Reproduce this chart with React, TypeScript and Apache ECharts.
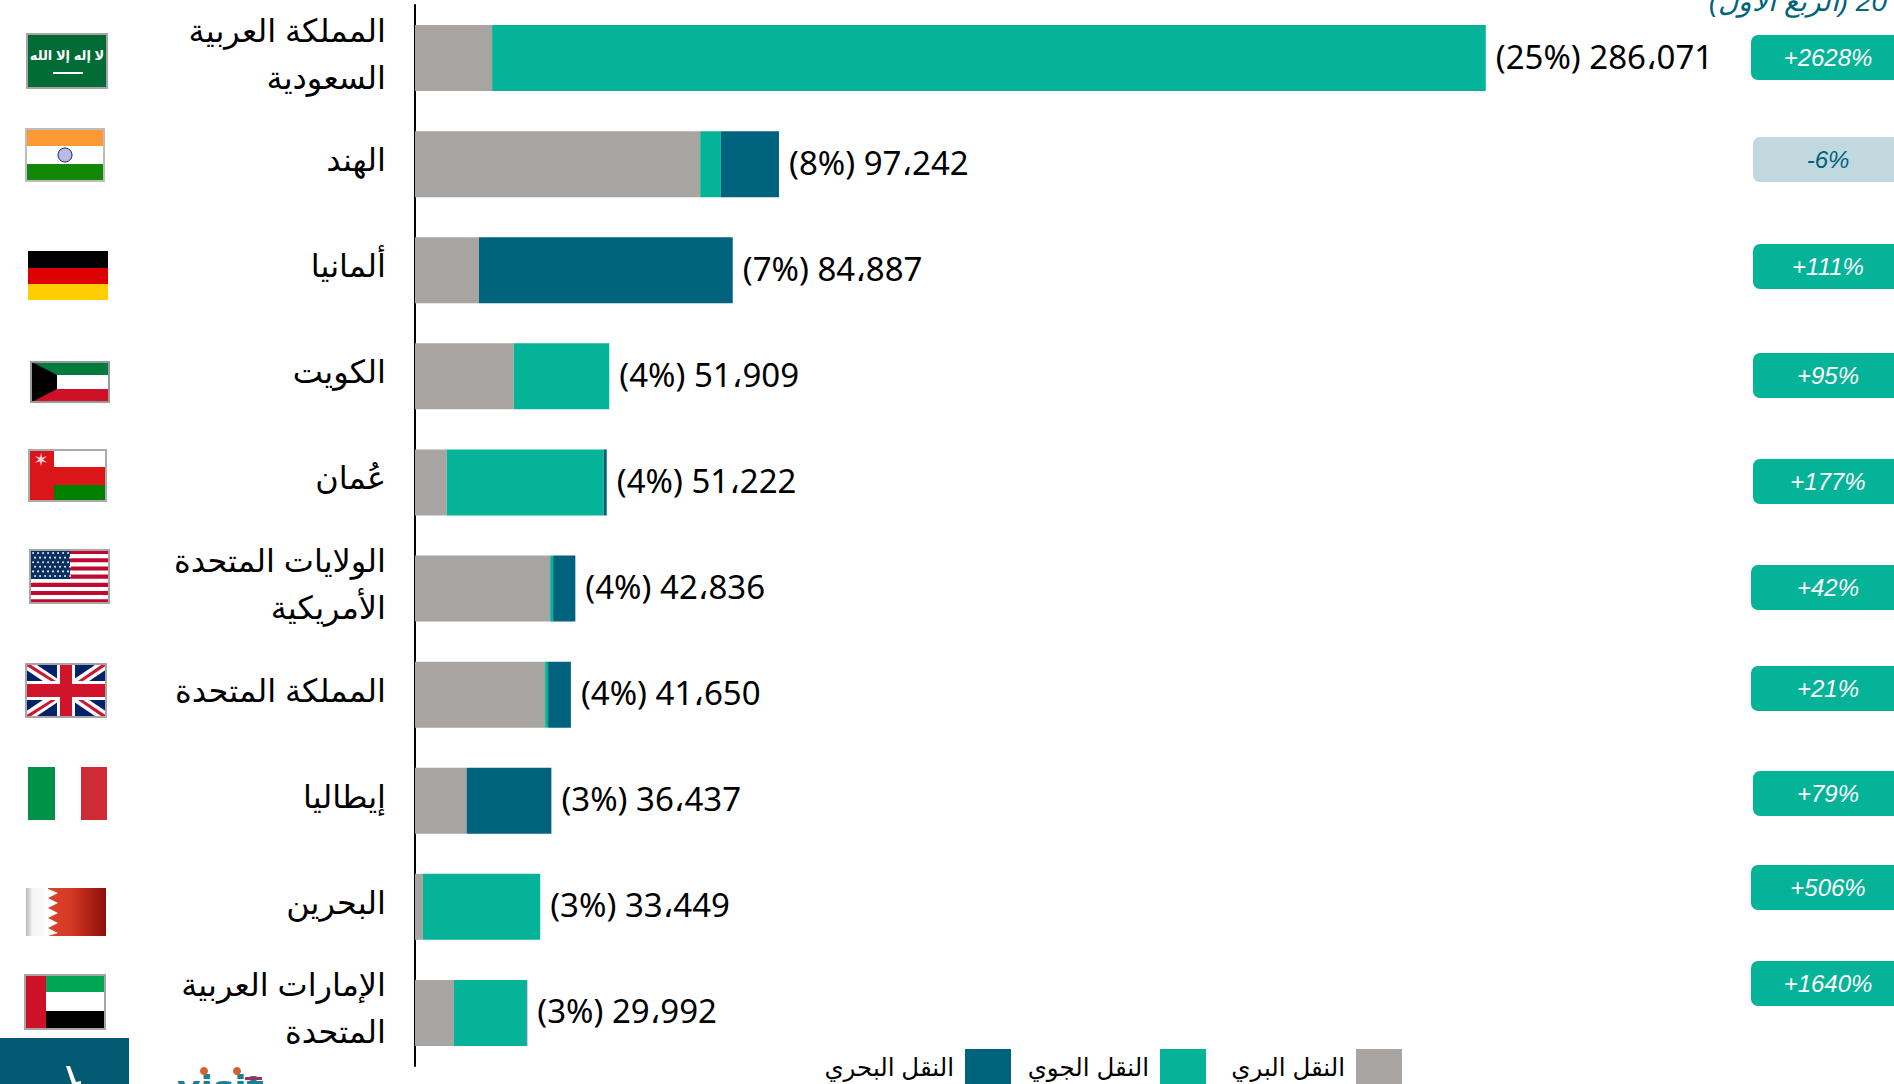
import React, { useEffect, useRef } from "react";
import * as echarts from "echarts";

const categories = [
  "المملكة العربية\nالسعودية",
  "الهند",
  "ألمانيا",
  "الكويت",
  "عُمان",
  "الولايات المتحدة\nالأمريكية",
  "المملكة المتحدة",
  "إيطاليا",
  "البحرين",
  "الإمارات العربية\nالمتحدة",
];
const landValues = [20600, 76200, 17100, 26400, 8500, 36100, 34760, 13800, 2100, 10400];
const airValues = [265471, 5500, 0, 25509, 41900, 800, 800, 0, 31349, 19392];
const seaValues = [0, 15542, 67787, 0, 822, 5936, 6090, 22637, 0, 200];
const totals = ["286،071", "97،242", "84،887", "51،909", "51،222", "42،836", "41،650", "36،437", "33،449", "29،992"];
const shares = ["25%", "8%", "7%", "4%", "4%", "4%", "4%", "3%", "3%", "3%"];
const changes = ["+2628%", "-6%", "+111%", "+95%", "+177%", "+42%", "+21%", "+79%", "+506%", "+1640%"];
const seriesNames = ["النقل البري", "النقل الجوي", "النقل البحري"];
const titleFragment = "(الربع الأول) 20";

const GRAY = "#a8a4a2";
const TEAL = "#05b398";
const NAVY = "#00637d";
const ARABIC = "'Liberation Sans', 'DejaVu Sans', sans-serif";

const pillBoxes = [
  [1751, 35], [1753, 137], [1753, 244], [1753, 353], [1753, 459],
  [1751, 565], [1751, 666], [1753, 771], [1751, 865], [1751, 961],
];
const legendRights = [487, 683, 878];

const rect = (x: number, y: number, w: number, h: number, fill: any, extra: any = {}) => ({
  type: "rect", shape: { x, y, width: w, height: h }, style: { fill, ...extra }, silent: true,
});
const poly = (points: number[][], fill: string) => ({
  type: "polygon", shape: { points }, style: { fill }, silent: true,
});
const frame = (x: number, y: number, w: number, h: number, c = "#a6a6a6") => ({
  type: "rect", shape: { x: x + 1, y: y + 1, width: w - 2, height: h - 2 },
  style: { fill: "none", stroke: c, lineWidth: 2 }, silent: true, z: 3,
});

function flagElements(): any[] {
  const out: any[] = [];
  // Saudi Arabia
  out.push(rect(26, 33, 82, 56, "#006b35"), frame(26, 33, 82, 56));
  out.push({ type: "text", x: 67, y: 55, silent: true, style: { text: "لا إله إلا الله", fill: "#fff", font: "bold 13px " + ARABIC, align: "center", verticalAlign: "middle" } });
  out.push(rect(53, 72, 30, 2, "#fff"));
  // India
  out.push(rect(25, 128, 80, 18, "#ff9933"), rect(25, 146, 80, 18, "#ffffff"), rect(25, 164, 80, 18, "#138808"), frame(25, 128, 80, 54, "#bdbdbd"));
  out.push({ type: "circle", shape: { cx: 65, cy: 155, r: 7 }, style: { fill: "#b9bce0", stroke: "#1a1a8c", lineWidth: 1 }, silent: true });
  // Germany
  out.push(rect(28, 251, 80, 17, "#000"), rect(28, 268, 80, 16, "#dd0000"), rect(28, 284, 80, 16, "#ffce00"));
  // Kuwait
  out.push(rect(30, 361, 80, 14, "#007a3d"), rect(30, 375, 80, 14, "#fff"), rect(30, 389, 80, 14, "#ce1126"));
  out.push(poly([[30, 361], [57, 375], [57, 389], [30, 403]], "#000"), frame(30, 361, 80, 42, "#999"));
  // Oman
  out.push(rect(28, 449, 79, 53, "#db161b"), rect(54, 450, 53, 17, "#ffffff"), rect(54, 485, 53, 17, "#008000"), frame(28, 449, 79, 53, "#ababab"));
  out.push({ type: "text", x: 41, y: 459, silent: true, style: { text: "✶", fill: "#f6d5d5", font: "18px 'DejaVu Sans'", align: "center", verticalAlign: "middle" } });
  // USA
  out.push(rect(29, 549, 81, 55, "#ffffff"));
  for (let i = 0; i < 13; i += 2) out.push(rect(29, 550 + i * 4.1, 81, 4.1, "#bf0a30"));
  out.push(rect(29, 550, 41, 29, "#0a3161"));
  for (let r = 0; r < 6; r++) for (let c = 0; c < 8; c++) {
    out.push({ type: "circle", shape: { cx: 33 + c * 5 + (r % 2) * 2, cy: 553 + r * 4.6, r: 0.9 }, style: { fill: "#fff" }, silent: true });
  }
  out.push(frame(29, 549, 81, 55, "#a6a6a6"));
  // United Kingdom
  const ux = 25, uy = 663, uw = 82, uh = 55;
  out.push(rect(ux, uy, uw, uh, "#012169"));
  out.push(poly([[ux, uy], [ux + 9, uy], [ux + uw, uy + uh - 6], [ux + uw, uy + uh], [ux + uw - 9, uy + uh], [ux, uy + 6]], "#fff"));
  out.push(poly([[ux + uw, uy], [ux + uw - 9, uy], [ux, uy + uh - 6], [ux, uy + uh], [ux + 9, uy + uh], [ux + uw, uy + 6]], "#fff"));
  out.push(poly([[ux, uy + 2], [ux + 3, uy], [ux + 34, uy + 20], [ux + 29, uy + 20]], "#cf142b"));
  out.push(poly([[ux + uw, uy + 2], [ux + uw - 3, uy], [ux + 50, uy + 20], [ux + 55, uy + 20]], "#cf142b"));
  out.push(poly([[ux, uy + uh - 2], [ux + 3, uy + uh], [ux + 34, uy + 35], [ux + 29, uy + 35]], "#cf142b"));
  out.push(poly([[ux + uw, uy + uh - 2], [ux + uw - 3, uy + uh], [ux + 50, uy + 35], [ux + 55, uy + 35]], "#cf142b"));
  out.push(rect(ux + 32, uy, 18, uh, "#fff"), rect(ux, uy + 18, uw, 19, "#fff"));
  out.push(rect(ux + 35, uy, 12, uh, "#cf142b"), rect(ux, uy + 21, uw, 13, "#cf142b"));
  out.push(frame(ux, uy, uw, uh, "#a6a6a6"));
  // Italy
  out.push(rect(28, 767, 27, 53, "#009246"), rect(81, 767, 26, 53, "#ce2b37"));
  // Bahrain
  out.push(rect(26, 888, 80, 48, { type: "linear", x: 0, y: 0, x2: 1, y2: 0, colorStops: [
    { offset: 0, color: "#e04a36" }, { offset: 0.55, color: "#d63a24" }, { offset: 1, color: "#8e0e0a" },
  ] }));
  out.push(rect(26, 888, 22, 48, { type: "linear", x: 0, y: 0, x2: 1, y2: 0, colorStops: [
    { offset: 0, color: "#b8b8b8" }, { offset: 0.3, color: "#f4f4f4" }, { offset: 1, color: "#ffffff" },
  ] }));
  out.push(poly([[46, 888], [58, 893], [48, 898], [58, 903], [48, 908], [58, 913], [48, 918], [58, 923], [48, 928], [58, 933], [48, 936], [46, 936]], "#ffffff"));
  // United Arab Emirates
  out.push(rect(24, 974, 82, 18, "#00a651"), rect(24, 992, 82, 19, "#ffffff"), rect(24, 1011, 82, 19, "#000000"), rect(24, 974, 22, 56, "#ce1126"), frame(24, 974, 82, 56, "#a6a6a6"));
  return out;
}

function decorations(): any[] {
  const out: any[] = [...flagElements()];
  changes.forEach((text, i) => {
    const [x, y] = pillBoxes[i];
    const negative = text.startsWith("-");
    out.push({
      type: "rect", shape: { x, y, width: 170, height: 45, r: 7 },
      style: { fill: negative ? "#c1d8de" : TEAL }, silent: true,
    });
    out.push({
      type: "text", x: 1828, y: y + 22, silent: true,
      style: { text, fill: negative ? NAVY : "#ffffff", font: "italic 24px 'Liberation Sans', Arial, sans-serif", align: "center", verticalAlign: "middle" },
    });
  });
  out.push({
    type: "text", x: 1887, y: 1, silent: true,
    style: { text: titleFragment, fill: NAVY, font: "italic 28px 'Liberation Sans', 'DejaVu Sans', sans-serif", align: "right", verticalAlign: "middle" },
  });
  // logo fragments at the lower-left edge
  out.push(rect(0, 1038, 129, 46, "#025a72"));
  out.push(poly([[66, 1066], [70, 1066], [76, 1082], [81, 1081], [81, 1084], [72, 1084]], "#ffffff"));
  out.push({
    type: "text", x: 177, y: 1106, silent: true,
    style: { text: "visit", fill: "#1c7f93", font: "bold 36px 'DejaVu Sans', sans-serif", align: "left", verticalAlign: "bottom" },
  });
  out.push({ type: "circle", shape: { cx: 204, cy: 1071, r: 4 }, style: { fill: "#d0622d" }, silent: true });
  out.push({ type: "circle", shape: { cx: 237, cy: 1071, r: 4 }, style: { fill: "#d0622d" }, silent: true });
  out.push(rect(245, 1077, 17, 3, "#a43050"));
  return out;
}

export default function App() {
  const ref = useRef<HTMLDivElement>(null);
  useEffect(() => {
    document.body.style.margin = "0";
    document.body.style.overflow = "hidden";
    const chart = echarts.init(ref.current!, undefined, { renderer: "svg" });
    const common = { type: "bar", stack: "t", barWidth: 66 };
    chart.setOption({
      animation: false,
      backgroundColor: "#ffffff",
      grid: [
        { left: 415, top: 5, width: 1478.5, height: 1061 },
        { left: 415, top: 1, width: 1478.5, height: 1061 },
      ],
      xAxis: [
        { type: "value", min: 0, max: 395000, show: false, gridIndex: 0 },
        { type: "value", min: 0, max: 395000, show: false, gridIndex: 1 },
      ],
      yAxis: [
        {
          type: "category", gridIndex: 0, inverse: true, data: categories,
          axisLine: { show: true, lineStyle: { color: "#000", width: 2 } },
          axisTick: { show: false },
          axisLabel: { show: false },
        },
        {
          type: "category", gridIndex: 1, inverse: true, data: categories,
          axisLine: { show: false },
          axisTick: { show: false },
          axisLabel: {
            margin: 29, fontFamily: ARABIC, fontSize: 32, color: "#000",
            lineHeight: 47, align: "right",
          },
        },
      ],
      legend: seriesNames.map((name, i) => ({
        data: [name],
        right: legendRights[i], top: 1044, align: "right", orient: "horizontal",
        itemWidth: 46, itemHeight: 36,
        icon: "rect",
        selectedMode: false,
        textStyle: { fontFamily: ARABIC, fontSize: 24.5, color: "#000", padding: [0, 6, 4, 0] },
      })),
      series: [
        { ...common, name: seriesNames[0], data: landValues, itemStyle: { color: GRAY } },
        { ...common, name: seriesNames[1], data: airValues, itemStyle: { color: TEAL } },
        { ...common, name: seriesNames[2], data: seaValues, itemStyle: { color: NAVY } },
        {
          ...common, name: "total", data: categories.map(() => 0),
          itemStyle: { color: "transparent" },
          label: {
            show: true, position: "right", distance: 10, offset: [0, -2],
            fontFamily: "'Noto Sans', 'DejaVu Sans', sans-serif", fontSize: 33, color: "#000",
            formatter: (p: any) => `(${shares[p.dataIndex]}) ${totals[p.dataIndex]}`,
          },
        },
      ],
      graphic: { elements: decorations() },
    });
    return () => chart.dispose();
  }, []);
  return <div ref={ref} style={{ width: 1894, height: 1084 }} />;
}
